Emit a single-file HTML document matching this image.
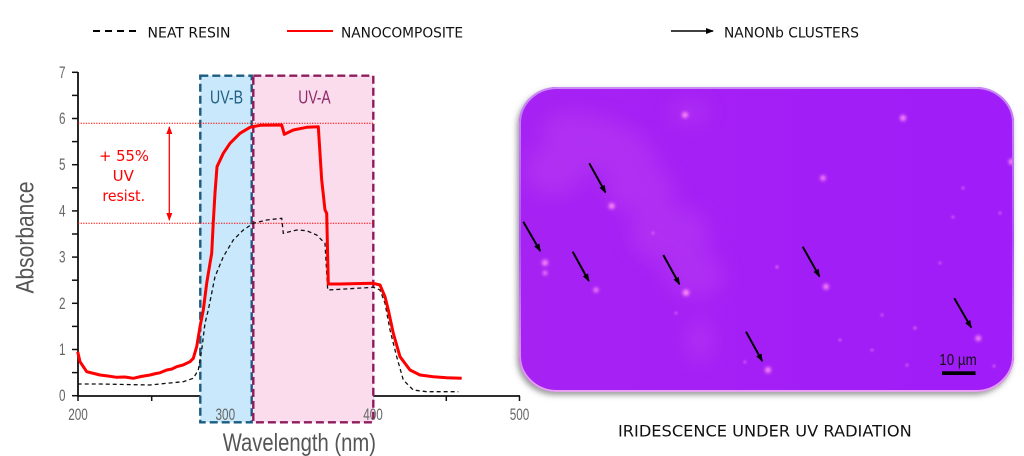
<!DOCTYPE html>
<html>
<head>
<meta charset="utf-8">
<style>
html,body{margin:0;padding:0;background:#fff;}
svg{display:block;}
</style>
</head>
<body>
<svg width="1024" height="456" viewBox="0 0 1024 456" xmlns="http://www.w3.org/2000/svg">
<defs>
  <filter id="blur2" x="-50%" y="-50%" width="200%" height="200%"><feGaussianBlur stdDeviation="1.6"/></filter>
  <filter id="blur1" x="-50%" y="-50%" width="200%" height="200%"><feGaussianBlur stdDeviation="1"/></filter>
  <filter id="haze" x="-50%" y="-50%" width="200%" height="200%"><feGaussianBlur stdDeviation="10"/></filter>
  <filter id="shadow" x="-10%" y="-10%" width="120%" height="125%"><feDropShadow dx="-2" dy="3" stdDeviation="3" flood-color="#555" flood-opacity="0.6"/></filter>
  <clipPath id="imgclip"><rect x="519" y="87" width="495" height="305" rx="38" ry="36"/></clipPath>
  <linearGradient id="bg" x1="0" y1="0" x2="1" y2="0">
    <stop offset="0" stop-color="#a622f3"/>
    <stop offset="1" stop-color="#a01cf8"/>
  </linearGradient>
  <linearGradient id="rim" x1="0" y1="0" x2="0" y2="1">
    <stop offset="0" stop-color="#c98af6"/>
    <stop offset="0.5" stop-color="#b050f5"/>
    <stop offset="1" stop-color="#e7a0f2"/>
  </linearGradient>
  <marker id="ah" markerWidth="8" markerHeight="8" refX="7" refY="4" orient="auto" markerUnits="userSpaceOnUse">
    <path d="M0,1 L8,4 L0,7 Z" fill="#000"/>
  </marker>
  <marker id="rh" markerWidth="8" markerHeight="8" refX="7" refY="4" orient="auto-start-reverse" markerUnits="userSpaceOnUse">
    <path d="M0,1 L8,4 L0,7 Z" fill="#f00"/>
  </marker>
</defs>

<!-- Legend -->
<line x1="93" y1="31" x2="140" y2="31" stroke="#000" stroke-width="2" stroke-dasharray="7 5"/>
<text x="147.5" y="37.5" font-family="DejaVu Sans, sans-serif" font-size="14.5" fill="#111" textLength="83" lengthAdjust="spacingAndGlyphs">NEAT RESIN</text>
<line x1="287" y1="31" x2="333" y2="31" stroke="#f00" stroke-width="2"/>
<text x="341" y="37.5" font-family="DejaVu Sans, sans-serif" font-size="14.5" fill="#111" textLength="122" lengthAdjust="spacingAndGlyphs">NANOCOMPOSITE</text>
<line x1="671" y1="31" x2="713" y2="31" stroke="#000" stroke-width="1.6" marker-end="url(#ah)"/>
<text x="724" y="37.5" font-family="DejaVu Sans, sans-serif" font-size="14.5" fill="#111" textLength="135" lengthAdjust="spacingAndGlyphs">NANONb CLUSTERS</text>

<!-- Axes -->
<line x1="78" y1="72" x2="78" y2="396.5" stroke="#111" stroke-width="1.8"/>
<line x1="77" y1="396" x2="520" y2="396" stroke="#111" stroke-width="1.8"/>
<g stroke="#111" stroke-width="1.5">
  <line x1="72" y1="395.7" x2="78" y2="395.7"/>
  <line x1="72" y1="372.6" x2="78" y2="372.6"/>
  <line x1="72" y1="349.5" x2="78" y2="349.5"/>
  <line x1="72" y1="326.4" x2="78" y2="326.4"/>
  <line x1="72" y1="303.3" x2="78" y2="303.3"/>
  <line x1="72" y1="280.2" x2="78" y2="280.2"/>
  <line x1="72" y1="257.1" x2="78" y2="257.1"/>
  <line x1="72" y1="234" x2="78" y2="234"/>
  <line x1="72" y1="210.9" x2="78" y2="210.9"/>
  <line x1="72" y1="187.8" x2="78" y2="187.8"/>
  <line x1="72" y1="164.7" x2="78" y2="164.7"/>
  <line x1="72" y1="141.6" x2="78" y2="141.6"/>
  <line x1="72" y1="118.5" x2="78" y2="118.5"/>
  <line x1="72" y1="95.4" x2="78" y2="95.4"/>
  <line x1="72" y1="72.3" x2="78" y2="72.3"/>
  <line x1="78" y1="396" x2="78" y2="401"/>
  <line x1="151.7" y1="396" x2="151.7" y2="401"/>
  <line x1="225.3" y1="396" x2="225.3" y2="401"/>
  <line x1="299" y1="396" x2="299" y2="401"/>
  <line x1="372.6" y1="396" x2="372.6" y2="401"/>
  <line x1="446.3" y1="396" x2="446.3" y2="401"/>
  <line x1="519.5" y1="396" x2="519.5" y2="401"/>
</g>

<!-- Y tick labels -->
<g font-family="Liberation Sans, sans-serif" font-size="16.5" fill="#666" text-anchor="end">
  <text x="65.5" y="401.2" textLength="6.5" lengthAdjust="spacingAndGlyphs">0</text>
  <text x="65.5" y="355" textLength="6.5" lengthAdjust="spacingAndGlyphs">1</text>
  <text x="65.5" y="308.8" textLength="6.5" lengthAdjust="spacingAndGlyphs">2</text>
  <text x="65.5" y="262.6" textLength="6.5" lengthAdjust="spacingAndGlyphs">3</text>
  <text x="65.5" y="216.4" textLength="6.5" lengthAdjust="spacingAndGlyphs">4</text>
  <text x="65.5" y="170.2" textLength="6.5" lengthAdjust="spacingAndGlyphs">5</text>
  <text x="65.5" y="124" textLength="6.5" lengthAdjust="spacingAndGlyphs">6</text>
  <text x="65.5" y="77.8" textLength="6.5" lengthAdjust="spacingAndGlyphs">7</text>
</g>

<!-- UV boxes -->
<rect x="200.3" y="75.7" width="51.4" height="346.6" fill="#c9e8fb" stroke="#1b5b80" stroke-width="2.4" stroke-dasharray="8 4"/>
<rect x="253.3" y="75.7" width="120" height="346.6" fill="#fadcec" stroke="#8e1c5c" stroke-width="2.4" stroke-dasharray="8 4"/>
<text x="210" y="103.3" font-family="Liberation Sans, sans-serif" font-size="18.5" fill="#1e5f82" textLength="33" lengthAdjust="spacingAndGlyphs">UV-B</text>
<text x="298.3" y="103.3" font-family="Liberation Sans, sans-serif" font-size="18.5" fill="#8e2a6a" textLength="32.4" lengthAdjust="spacingAndGlyphs">UV-A</text>

<!-- X tick labels -->
<g font-family="Liberation Sans, sans-serif" font-size="16.5" fill="#666" text-anchor="middle">
  <text x="78" y="420" textLength="19.6" lengthAdjust="spacingAndGlyphs">200</text>
  <text x="225.3" y="420" textLength="19.6" lengthAdjust="spacingAndGlyphs">300</text>
  <text x="373" y="420" textLength="19.6" lengthAdjust="spacingAndGlyphs">400</text>
  <text x="519.5" y="420" textLength="19.6" lengthAdjust="spacingAndGlyphs">500</text>
</g>

<!-- Red dotted reference lines -->
<line x1="78" y1="123.3" x2="373" y2="123.3" stroke="#f00" stroke-width="1" stroke-dasharray="1.3 1.3"/>
<line x1="78" y1="223.3" x2="373" y2="223.3" stroke="#f00" stroke-width="1" stroke-dasharray="1.3 1.3"/>
<line x1="169.3" y1="127" x2="169.3" y2="220" stroke="#f00" stroke-width="1.3" marker-start="url(#rh)" marker-end="url(#rh)"/>
<g font-family="DejaVu Sans, sans-serif" font-size="15" fill="#f00" text-anchor="middle">
  <text x="124" y="161" textLength="50" lengthAdjust="spacingAndGlyphs">+ 55%</text>
  <text x="123.3" y="181">UV</text>
  <text x="123.7" y="201" textLength="42.7" lengthAdjust="spacingAndGlyphs">resist.</text>
</g>

<!-- Neat resin dashed -->
<path d="M77.7,384 L100,384 L150,385 L166.7,383.3 L183.3,381.7 L193.3,378.3 L198.3,370 L201.7,350 L205,323.3 L208.3,310 L215,276.7 L223.3,256.7 L233.3,240 L243.3,230 L253.3,223.3 L266.7,220 L281.7,218.3 L283.3,233.3 L296.7,230 L306.7,230.7 L316.7,235 L325,243.3 L327.7,290 L340,289.3 L373.3,287.3 L380,290 L385,303.3 L390,330 L396.7,356.7 L403.3,380 L413.3,390 L426.7,391.7 L458.3,391.7" fill="none" stroke="#111" stroke-width="1.3" stroke-dasharray="4 3"/>

<!-- Nanocomposite red -->
<path d="M77.7,351.7 L80,361.7 L86.7,371.7 L92,373 L100,375 L108,376 L116.7,377.3 L125,377 L133.3,378.3 L141,376.5 L150,375 L156,373.5 L160,372.8 L166.7,370 L172,369 L176.7,366.7 L183,365 L190,361.7 L193.3,358.3 L196.7,346.7 L200,326.7 L203.3,310 L206.7,283.3 L210,263.3 L211.7,253.3 L213.3,222 L215,193 L217,166.7 L223.3,153.3 L230,143.3 L240,133.3 L250,127.3 L260,125.3 L281.7,125 L284.3,134.3 L293.3,130 L306.7,127.3 L318.3,126.7 L321.7,180 L325,210 L326.7,213.3 L328.3,284 L340,284 L373.3,283.3 L380,285 L385,296.7 L388.3,310 L393.3,333.3 L400,356.7 L410,370 L420,375 L433.3,376.7 L446.7,377.7 L461.7,378.3" fill="none" stroke="#f00" stroke-width="3" stroke-linejoin="round"/>

<!-- Axis titles -->
<text x="222.7" y="451" font-family="Liberation Sans, sans-serif" font-size="25" fill="#555" textLength="153.3" lengthAdjust="spacingAndGlyphs">Wavelength (nm)</text>
<text transform="translate(33.5,293.5) rotate(-90)" x="0" y="0" font-family="Liberation Sans, sans-serif" font-size="25" fill="#555" textLength="112" lengthAdjust="spacingAndGlyphs">Absorbance</text>

<!-- Micrograph image -->
<rect x="519" y="87" width="495" height="305" rx="38" ry="36" fill="#a41ef5" filter="url(#shadow)"/>
<g clip-path="url(#imgclip)">
  <rect x="519" y="87" width="495" height="305" fill="url(#bg)"/>
  <g filter="url(#haze)" fill="#cc55ee" opacity="0.28">
    <ellipse cx="600" cy="145" rx="60" ry="28" transform="rotate(20 600 145)"/>
    <ellipse cx="555" cy="170" rx="30" ry="25"/>
    <ellipse cx="640" cy="190" rx="35" ry="25"/>
    <ellipse cx="670" cy="235" rx="40" ry="30"/>
    <ellipse cx="695" cy="275" rx="30" ry="22"/>
    <ellipse cx="700" cy="340" rx="14" ry="22"/>
    <ellipse cx="690" cy="112" rx="20" ry="12"/>
  </g>
  <g fill="#ff8cf5" filter="url(#blur2)">
    <circle cx="611.7" cy="206" r="3"/>
    <circle cx="545" cy="262.7" r="3"/>
    <circle cx="545" cy="273" r="2.2"/>
    <circle cx="596" cy="290" r="2.4"/>
    <circle cx="686" cy="292.7" r="3.2"/>
    <circle cx="826" cy="286.7" r="2.8"/>
    <circle cx="768" cy="370" r="3"/>
    <circle cx="978.3" cy="338.3" r="2.8"/>
    <circle cx="903" cy="118" r="3"/>
    <circle cx="685" cy="115" r="3"/>
    <circle cx="1011.7" cy="161.7" r="3"/>
    <circle cx="823" cy="178" r="2.6"/>
  </g>
  <g fill="#e070f5" filter="url(#blur1)">
    <circle cx="653" cy="233" r="1.3"/>
    <circle cx="777" cy="267" r="1.5"/>
    <circle cx="676" cy="313" r="1.3"/>
    <circle cx="940" cy="263" r="1.3"/>
    <circle cx="953" cy="217" r="1.3"/>
    <circle cx="1000" cy="213" r="1.3"/>
    <circle cx="915" cy="328" r="1.5"/>
    <circle cx="840" cy="340" r="1.3"/>
    <circle cx="872" cy="350" r="1.3"/>
    <circle cx="994" cy="366" r="1.3"/>
    <circle cx="907" cy="365" r="1.3"/>
    <circle cx="882" cy="315" r="1.3"/>
    <circle cx="963" cy="188" r="1.3"/>
    <circle cx="745" cy="362" r="1.3"/>
  </g>
  <!-- arrows -->
  <g stroke="#000" stroke-width="2" marker-end="url(#ah)">
    <line x1="589.3" y1="163.3" x2="605.5" y2="192.5"/>
    <line x1="523.3" y1="221.7" x2="540.2" y2="251"/>
    <line x1="572.7" y1="251.7" x2="588.8" y2="281"/>
    <line x1="663.3" y1="255" x2="679.5" y2="284.3"/>
    <line x1="802.7" y1="246.7" x2="819.5" y2="276.5"/>
    <line x1="746" y1="331.7" x2="762.2" y2="361"/>
    <line x1="954.3" y1="298.3" x2="971.2" y2="327.5"/>
  </g>
  <!-- scale bar -->
  <text x="939.3" y="365" font-family="Liberation Sans, sans-serif" font-size="16" fill="#111" textLength="37.4" lengthAdjust="spacingAndGlyphs">10 µm</text>
  <rect x="942" y="371.3" width="33.5" height="3.7" fill="#000"/>
</g>
<rect x="520" y="88" width="493" height="303" rx="37" ry="35" fill="none" stroke="url(#rim)" stroke-width="2"/>

<!-- Caption -->
<text x="618" y="436.5" font-family="DejaVu Sans, sans-serif" font-size="16" fill="#111" textLength="293.7" lengthAdjust="spacingAndGlyphs">IRIDESCENCE UNDER UV RADIATION</text>
</svg>
</body>
</html>
